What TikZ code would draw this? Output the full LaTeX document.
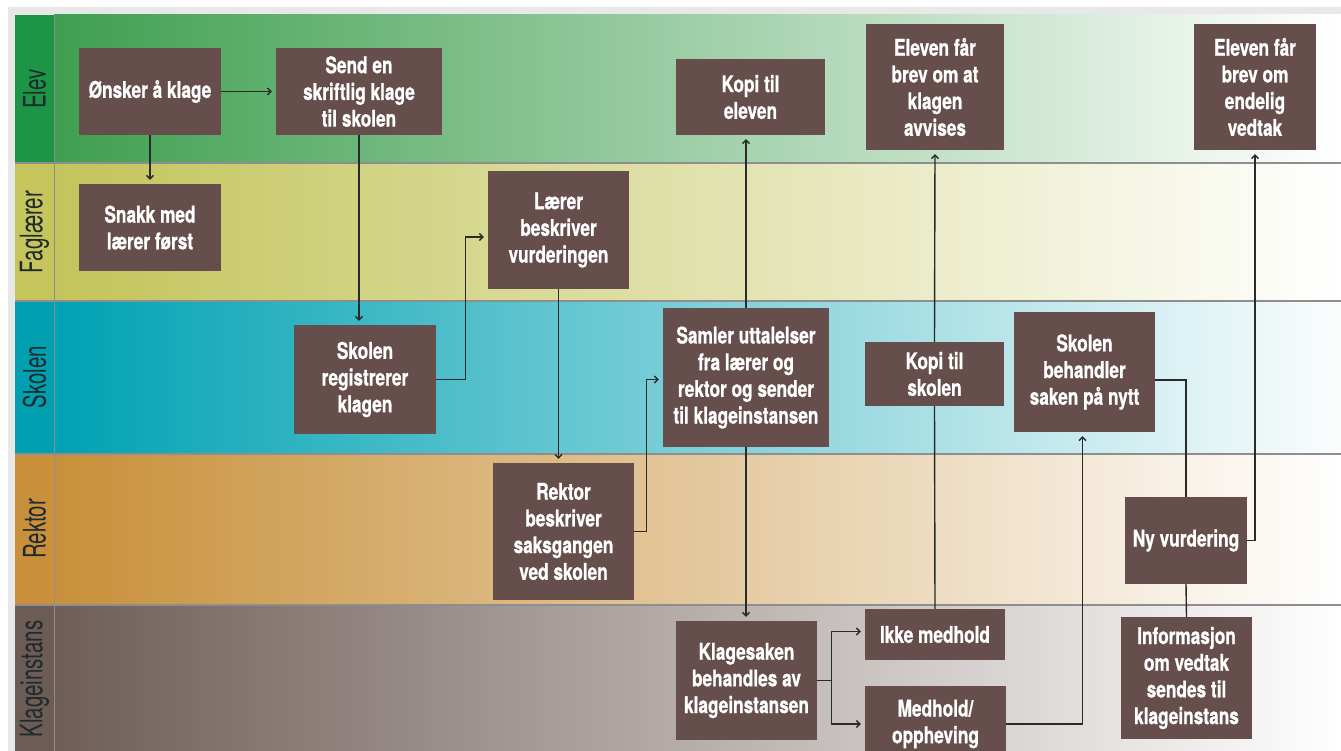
\documentclass[tikz,border=0pt]{standalone}
\usepackage{fontspec}
\setmainfont{TeX Gyre Heros}
\newfontfamily\boxfont[FakeStretch=0.75, FakeBold=0.8]{TeX Gyre Heros}
\newfontfamily\lanefont[FakeStretch=0.66]{TeX Gyre Heros}
\usetikzlibrary{positioning, arrows.meta}

\definecolor{boxbrown}{HTML}{654E4B}
\definecolor{elevdark}{HTML}{1C9546}
\definecolor{elevlane}{HTML}{3F9F50}
\definecolor{elevmid}{HTML}{B2D3A0}
\definecolor{fagdark}{HTML}{C6C55C}
\definecolor{faglane}{HTML}{C3C45A}
\definecolor{fagmid}{HTML}{DCDA92}
\definecolor{skoledark}{HTML}{00A0B1}
\definecolor{skolelane}{HTML}{00A2B3}
\definecolor{skolemid}{HTML}{78BAC5}
\definecolor{rektordark}{HTML}{C98F3A}
\definecolor{rektorlane}{HTML}{C8903A}
\definecolor{rektormid}{HTML}{E3BD80}
\definecolor{klagedark}{HTML}{6D5C56}
\definecolor{klagelane}{HTML}{6F5E58}
\definecolor{klagemid}{HTML}{B09E98}
\definecolor{lanetext}{HTML}{1E2A2B}
\definecolor{laneline}{HTML}{8E8E8E}
\definecolor{arrowc}{HTML}{2A2A2A}

\begin{document}
\begin{tikzpicture}[x=1pt, y=-1pt,
  box/.style = {rectangle, fill=boxbrown, text=white, align=center, inner sep=0pt,
    font=\boxfont\bfseries\fontsize{23}{26.7}\selectfont},
  lanelabel/.style = {rotate=90, text=lanetext, inner sep=0pt,
    font=\lanefont\fontsize{31}{32}\selectfont},
  link/.style = {draw=arrowc, line width=1.4pt},
  arr/.style = {link, -{Straight Barb[length=3.5pt, width=7pt]}, shorten >=4pt}]
\useasboundingbox (0,0) rectangle (1341,751);
\fill[white] (0,0) rectangle (1341,751);
\fill[black!9] (8,7) rectangle (1341,751);

% lanes
\shade[left color=elevlane, middle color=elevmid, right color=white] (54,15) rectangle (1341,163);
\shade[left color=faglane, middle color=fagmid, right color=white] (54,163) rectangle (1341,301);
\shade[left color=skolelane, middle color=skolemid, right color=white!97!skolemid] (54,301) rectangle (1341,454);
\shade[left color=rektorlane, middle color=rektormid, right color=white] (54,454) rectangle (1341,605);
\shade[left color=klagelane, middle color=klagemid, right color=white] (54,605) rectangle (1341,751);
\fill[elevdark] (15,15) rectangle (54,163);
\fill[fagdark] (15,163) rectangle (54,301);
\fill[skoledark] (15,301) rectangle (54,454);
\fill[rektordark] (15,454) rectangle (54,605);
\fill[klagedark] (15,605) rectangle (54,751);
\foreach \y in {163,301,454,605}
  \draw[laneline, line width=1.8pt] (15,\y) -- (1341,\y);
\draw[laneline, line width=1pt] (54,15) -- (54,751);

\node[lanelabel] (elevlab) at (34.5,89) {Elev};
\node[lanelabel] (faglab) at (34.5,232) {Faglærer};
\node[lanelabel] (skolelab) at (34.5,377) {Skolen};
\node[lanelabel] (rektorlab) at (34.5,529) {Rektor};
\node[lanelabel] (klagelab) at (34.5,679) {Klageinstans};

% steps
\node[box, minimum width=142pt, minimum height=87pt] (onsker) at (150,91.5) {Ønsker å klage};
\node[box, minimum width=166pt, minimum height=87pt] (send) at (359,91.5) {Send en\\skriftlig klage\\til skolen};
\node[box, minimum width=142pt, minimum height=87pt] (snakk) at (150,227.5) {Snakk med\\lærer først};
\node[box, minimum width=141pt, minimum height=118pt] (laerer) at (558.5,230) {Lærer\\beskriver\\vurderingen};
\node[box, minimum width=149pt, minimum height=76pt] (kopielev) at (750.5,97) {Kopi til\\eleven};
\node[box, minimum width=138pt, minimum height=126pt] (avvises) at (935,87) {Eleven får\\brev om at\\klagen\\avvises};
\node[box, minimum width=122pt, minimum height=126pt] (vedtak) at (1255,87) {Eleven får\\brev om\\endelig\\vedtak};
\node[box, minimum width=142pt, minimum height=109pt] (registrerer) at (365,379.5) {Skolen\\registrerer\\klagen};
\node[box, minimum width=166pt, minimum height=139pt] (samler) at (746,377.5) {Samler uttalelser\\fra lærer og\\rektor og sender\\til klageinstansen};
\node[box, minimum width=141pt, minimum height=137pt] (rektor) at (563.5,531.5) {Rektor\\beskriver\\saksgangen\\ved skolen};
\node[box, minimum width=141pt, minimum height=119pt] (klagesak) at (746.5,680.5) {Klagesaken\\behandles av\\klageinstansen};
\node[box, minimum width=139pt, minimum height=64pt] (kopiskole) at (934.5,374) {Kopi til\\skolen};
\node[box, minimum width=141pt, minimum height=120pt] (behandler) at (1084.5,372) {Skolen\\behandler\\saken på nytt};
\node[box, minimum width=140pt, minimum height=51pt] (ikke) at (935,634.5) {Ikke medhold};
\node[box, minimum width=141pt, minimum height=76pt] (medhold) at (935.5,724) {Medhold/\\oppheving};
\node[box, minimum width=122pt, minimum height=87pt] (nyvurd) at (1186,540.5) {Ny vurdering};
\node[box, minimum width=131pt, minimum height=122pt] (info) at (1186.5,678) {Informasjon\\om vedtak\\sendes til\\klageinstans};

% connectors
\draw[arr] (onsker) -- (send);
\draw[arr] (onsker) -- (snakk);
\draw[arr] (send.south) -- (send.south |- registrerer.north);
\draw[arr] (registrerer.east) -- ++(29,0) |- ([yshift=-7pt]laerer.west);
\draw[arr] (laerer.south) -- (laerer.south |- rektor.north);
\draw[arr] (rektor.east) -- ++(12,0) |- ([yshift=-2pt]samler.west);
\draw[arr] (samler.north) -- (samler.north |- kopielev.south);
\draw[arr] (samler.south) -- (samler.south |- klagesak.north);
\draw[arr] (klagesak.east) -- ++(14,0) |- ([yshift=3pt]ikke.west);
\draw[arr] (klagesak.east) -- ++(14,0) |- (medhold.west);
\draw[link] (ikke.north) -- (kopiskole.south);
\draw[arr] (kopiskole.north) -- (avvises.south);
\draw[arr] (medhold.east) -| ([xshift=-2pt]behandler.south);
\draw[link] ([yshift=-8pt]behandler.east) -| (nyvurd.north);
\draw[link] (nyvurd.south) -- (info.north);
\draw[arr] (nyvurd.east) -| (vedtak.south);
\end{tikzpicture}
\end{document}
